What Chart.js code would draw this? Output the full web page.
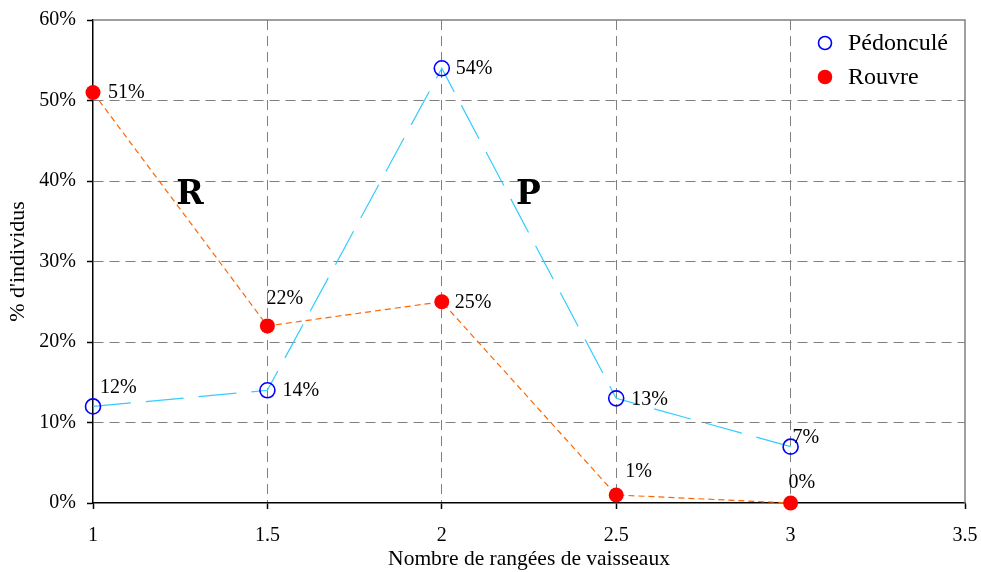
<!DOCTYPE html>
<html>
<head>
<meta charset="utf-8">
<script src="https://cdn.jsdelivr.net/npm/chart.js@4/dist/chart.umd.min.js"></script>
<style>
  html, body { margin: 0; padding: 0; background: #ffffff; }
  #wrap { width: 981px; height: 572px; }
</style>
</head>
<body>
<div id="wrap"><canvas id="c" width="981" height="572"></canvas></div>
<script>
// Nombre de rangées de vaisseaux
const rangees = [1, 1.5, 2, 2.5, 3];
// % d'individus par espèce
const pedoncule = [12, 14, 54, 13, 7];
const rouvre = [51, 22, 25, 1, 0];
const seriesNames = ['Pédonculé', 'Rouvre'];
const yTickLabels = ['0%', '10%', '20%', '30%', '40%', '50%', '60%'];
const xTickLabels = ['1', '1.5', '2', '2.5', '3', '3.5'];

// label placement around each point (pixels)
const pedLabelOffsets = [[7, -19], [15, 0], [14, 0], [15, 1], [2, -9]];
const rouLabelOffsets = [[15, 0], [-1, -27], [13, 1], [9, -23], [-2, -20]];

const SERIF = '"Liberation Serif", "Times New Roman", serif';

const frameLines = {
  id: 'frameLines',
  beforeDatasetsDraw(chart) {
    const { ctx, chartArea: a } = chart;
    ctx.save();
    ctx.strokeStyle = '#808080';
    ctx.lineWidth = 1.5;
    ctx.beginPath();
    ctx.moveTo(a.left, a.top);
    ctx.lineTo(a.right, a.top);
    ctx.lineTo(a.right, a.bottom);
    ctx.stroke();
    ctx.restore();
  }
};

const pointLabels = {
  id: 'pointLabels',
  afterDatasetsDraw(chart) {
    const { ctx } = chart;
    const offsets = [pedLabelOffsets, rouLabelOffsets];
    ctx.save();
    ctx.font = '20px ' + SERIF;
    ctx.fillStyle = '#000000';
    ctx.textAlign = 'left';
    ctx.textBaseline = 'middle';
    chart.data.datasets.forEach((ds, di) => {
      const meta = chart.getDatasetMeta(di);
      meta.data.forEach((pt, i) => {
        const [dx, dy] = offsets[di][i];
        ctx.fillText(ds.data[i].y + '%', pt.x + dx, pt.y + dy);
      });
    });
    // R / P annotations
    ctx.font = 'bold 33px "DejaVu Serif", serif';
    ctx.textAlign = 'center';
    ctx.textBaseline = 'alphabetic';
    const xs = chart.scales.x, ys = chart.scales.y;
    ctx.fillText('R', xs.getPixelForValue(1.278), ys.getPixelForValue(37.2));
    ctx.fillText('P', xs.getPixelForValue(2.248), ys.getPixelForValue(37.2));
    ctx.restore();
  }
};

const innerLegend = {
  id: 'innerLegend',
  afterDraw(chart) {
    const { ctx, chartArea: a } = chart;
    const mx = a.right - 140, tx = a.right - 117;
    const rows = [a.top + 23, a.top + 57];
    ctx.save();
    chart.data.datasets.forEach((ds, i) => {
      const y = rows[i];
      ctx.beginPath();
      ctx.arc(mx, y, 6.5, 0, Math.PI * 2);
      if (ds.pointBackgroundColor !== 'rgba(0,0,0,0)') {
        ctx.fillStyle = ds.pointBackgroundColor;
        ctx.fill();
      }
      ctx.lineWidth = ds.pointBorderWidth;
      ctx.strokeStyle = ds.pointBorderColor;
      ctx.stroke();
      ctx.fillStyle = '#000000';
      ctx.font = '24px ' + SERIF;
      ctx.textAlign = 'left';
      ctx.textBaseline = 'middle';
      ctx.fillText(ds.label, tx, y + 1);
    });
    ctx.restore();
  }
};

const toXY = (vals) => vals.map((v, i) => ({ x: rangees[i], y: v }));

new Chart(document.getElementById('c'), {
  type: 'line',
  data: {
    datasets: [
      {
        label: seriesNames[0],
        data: toXY(pedoncule),
        borderColor: '#33CCFF',
        borderWidth: 1.2,
        borderDash: [38, 15],
        pointStyle: 'circle',
        pointRadius: 7.5,
        pointBorderWidth: 1.6,
        pointBorderColor: '#0000FF',
        pointBackgroundColor: 'rgba(0,0,0,0)',
        tension: 0,
        clip: false
      },
      {
        label: seriesNames[1],
        data: toXY(rouvre),
        borderColor: '#FF6600',
        borderWidth: 1.2,
        borderDash: [6, 4],
        pointStyle: 'circle',
        pointRadius: 7.5,
        pointBorderWidth: 0,
        pointBorderColor: '#FF0000',
        pointBackgroundColor: '#FF0000',
        tension: 0,
        clip: false
      }
    ]
  },
  options: {
    responsive: false,
    animation: false,
    devicePixelRatio: 1,
    layout: { padding: { top: 20, right: 16, left: 0, bottom: 0 } },
    plugins: { legend: { display: false }, tooltip: { enabled: false } },
    scales: {
      x: {
        type: 'linear',
        min: 1,
        max: 3.5,
        afterFit(s) { s.height = 69; s.paddingLeft = 0; s.paddingRight = 0; },
        ticks: {
          stepSize: 0.5,
          color: '#000000',
          padding: 15,
          maxRotation: 0,
          font: { family: SERIF, size: 20 },
          callback: (v, i) => xTickLabels[i]
        },
        grid: {
          color: (c) => (c.index === 0 || c.index === xTickLabels.length - 1) ? 'rgba(0,0,0,0)' : '#808080',
          lineWidth: 1,
          tickColor: '#000000',
          tickLength: 6,
          tickWidth: 1.5
        },
        border: { display: true, color: '#000000', width: 1.5, dash: [10, 6] },
        title: {
          display: true,
          text: 'Nombre de rangées de vaisseaux',
          color: '#000000',
          padding: { top: 0, bottom: 0 },
          font: { family: SERIF, size: 21.5 }
        }
      },
      y: {
        type: 'linear',
        min: 0,
        max: 60,
        afterFit(s) { s.width = 93; s.paddingTop = 0; s.paddingBottom = 0; },
        ticks: {
          stepSize: 10,
          color: '#000000',
          padding: 11,
          font: { family: SERIF, size: 20 },
          callback: (v, i) => yTickLabels[i]
        },
        grid: {
          color: (c) => (c.index === 0 || c.index === yTickLabels.length - 1) ? 'rgba(0,0,0,0)' : '#808080',
          lineWidth: 1,
          tickColor: '#000000',
          tickLength: 6,
          tickWidth: 1.5
        },
        border: { display: true, color: '#000000', width: 1.5, dash: [10, 6] },
        title: {
          display: true,
          text: "% d'individus",
          color: '#000000',
          padding: { top: 5, bottom: 0 },
          font: { family: SERIF, size: 22 }
        }
      }
    }
  },
  plugins: [frameLines, pointLabels, innerLegend]
});
</script>
</body>
</html>
